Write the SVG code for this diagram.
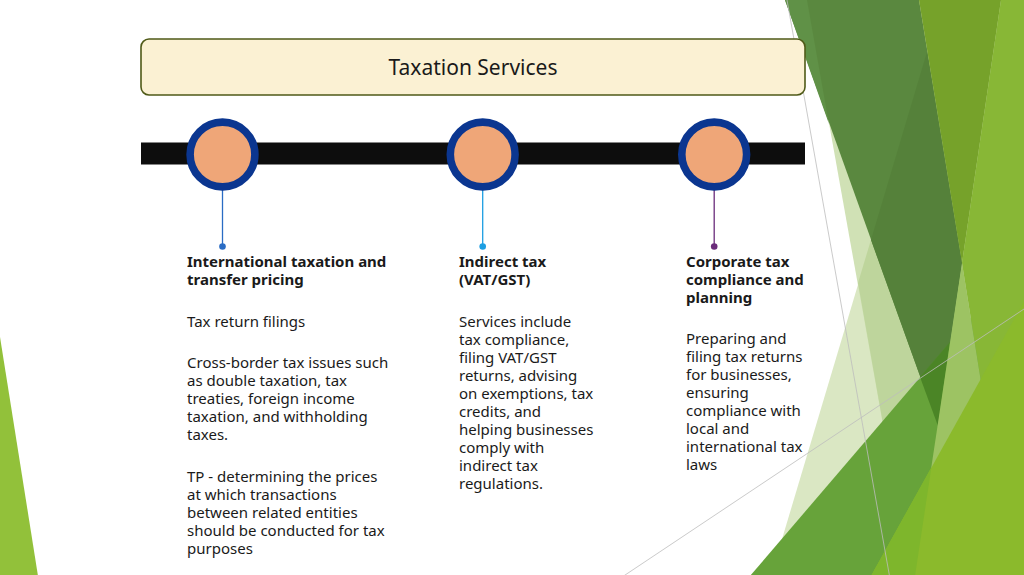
<svg xmlns="http://www.w3.org/2000/svg" width="1024" height="575" viewBox="0 0 1024 575">
<style>
.t{font-family:"Noto Sans","Open Sans","DejaVu Sans",sans-serif;font-size:15px;fill:#1a1a1a}
.b{font-weight:bold}
.ring{fill:#efa678;stroke:#0b3690;stroke-width:7.6}
.gl{stroke:#bdbdbd;stroke-width:1;fill:none;opacity:0.8}
</style>
<rect width="1024" height="575" fill="#ffffff"/>
<g id="decoration">
  <polygon points="943,0 1024,0 1024,576 771,576" fill="#dae7c3"/>
  <polygon points="807,0 1024,0 1024,576 910,576" fill="#d0e1b5"/>
  <polygon points="943,0 1024,0 1024,576 910,576 858,283" fill="#bed59c"/>
  <polygon points="785,0 919,0 962,263 938,426" fill="#5a883f"/>
  <polygon points="785,0 807,0 829,124" fill="#609147"/>
  <polygon points="927,52 962,263 938,426 871,240" fill="#55813a"/>
  <polygon points="750,576 1024,256 1024,576" fill="#67a33a"/>
  <polygon points="920,377 950,342 938,426" fill="#4b8526"/>
  <polygon points="919,0 1001,0 962,263" fill="#76a22a"/>
  <polygon points="1001,0 1024,0 1024,576 1012,576 962,263" fill="#88b736"/>
  <polygon points="962,263 1012,576 915,576" fill="#9dc363"/>
  <polygon points="871,576 1024,301.5 1024,576" fill="#8bba2c"/>
  <polygon points="871,576 931.4,467.3 915,576" fill="#7eb62c"/>
  <line class="gl" x1="787" y1="0" x2="889.5" y2="576"/>
  <line class="gl" x1="623.6" y1="576" x2="1024" y2="309"/>
  <polygon points="0,337 38,576 0,576" fill="#92c13a"/>
</g>
<g id="title">
  <rect x="141" y="39" width="664" height="56" rx="8" fill="#fbf1d3" stroke="#4f5a18" stroke-width="1.6"/>
  <text x="473" y="74.5" text-anchor="middle" style="font-family:'Noto Sans','Open Sans',sans-serif;font-size:21px;fill:#1a1a1a">Taxation Services</text>
</g>
<g id="timeline">
  <rect x="141" y="142.5" width="664" height="22" fill="#0d0d0d"/>
</g>
<g id="connectors">
  <line x1="222.5" y1="190" x2="222.5" y2="246.5" stroke="#2a6cc4" stroke-width="1.3"/>
  <circle cx="222.5" cy="246.5" r="3.3" fill="#2a6cc4"/>
  <line x1="482.7" y1="190" x2="482.7" y2="246.5" stroke="#1c9ee2" stroke-width="1.3"/>
  <circle cx="482.7" cy="246.5" r="3.3" fill="#1c9ee2"/>
  <line x1="714.2" y1="190" x2="714.2" y2="246.5" stroke="#6b2c7b" stroke-width="1.3"/>
  <circle cx="714.2" cy="246.5" r="3.3" fill="#6b2c7b"/>
</g>
<g id="node-international">
  <circle class="ring" cx="222.5" cy="154.5" r="32.4"/>
  <text class="t" x="187">
    <tspan class="b" x="187" y="266.5">International taxation and</tspan>
    <tspan class="b" x="187" y="284.5">transfer pricing</tspan>
    <tspan x="187" y="326.5">Tax return filings</tspan>
    <tspan x="187" y="367.5">Cross-border tax issues such</tspan>
    <tspan x="187" y="385.5">as double taxation, tax</tspan>
    <tspan x="187" y="403.5">treaties, foreign income</tspan>
    <tspan x="187" y="421.5">taxation, and withholding</tspan>
    <tspan x="187" y="439.5">taxes.</tspan>
    <tspan x="187" y="481.5">TP - determining the prices</tspan>
    <tspan x="187" y="499.5">at which transactions</tspan>
    <tspan x="187" y="517.5">between related entities</tspan>
    <tspan x="187" y="535.5">should be conducted for tax</tspan>
    <tspan x="187" y="553.5">purposes</tspan>
  </text>
</g>
<g id="node-indirect">
  <circle class="ring" cx="482.7" cy="154.5" r="32.4"/>
  <text class="t" x="459">
    <tspan class="b" x="459" y="266.5">Indirect tax</tspan>
    <tspan class="b" x="459" y="284.5">(VAT/GST)</tspan>
    <tspan x="459" y="326.5">Services include</tspan>
    <tspan x="459" y="344.5">tax compliance,</tspan>
    <tspan x="459" y="362.5">filing VAT/GST</tspan>
    <tspan x="459" y="380.5">returns, advising</tspan>
    <tspan x="459" y="398.5">on exemptions, tax</tspan>
    <tspan x="459" y="416.5">credits, and</tspan>
    <tspan x="459" y="434.5">helping businesses</tspan>
    <tspan x="459" y="452.5">comply with</tspan>
    <tspan x="459" y="470.5">indirect tax</tspan>
    <tspan x="459" y="488.5">regulations.</tspan>
  </text>
</g>
<g id="node-corporate">
  <circle class="ring" cx="714.2" cy="154.5" r="32.4"/>
  <text class="t" x="686">
    <tspan class="b" x="686" y="266.5">Corporate tax</tspan>
    <tspan class="b" x="686" y="284.5">compliance and</tspan>
    <tspan class="b" x="686" y="302.5">planning</tspan>
    <tspan x="686" y="343.5">Preparing and</tspan>
    <tspan x="686" y="361.5">filing tax returns</tspan>
    <tspan x="686" y="379.5">for businesses,</tspan>
    <tspan x="686" y="397.5">ensuring</tspan>
    <tspan x="686" y="415.5">compliance with</tspan>
    <tspan x="686" y="433.5">local and</tspan>
    <tspan x="686" y="451.5">international tax</tspan>
    <tspan x="686" y="469.5">laws</tspan>
  </text>
</g>
</svg>
